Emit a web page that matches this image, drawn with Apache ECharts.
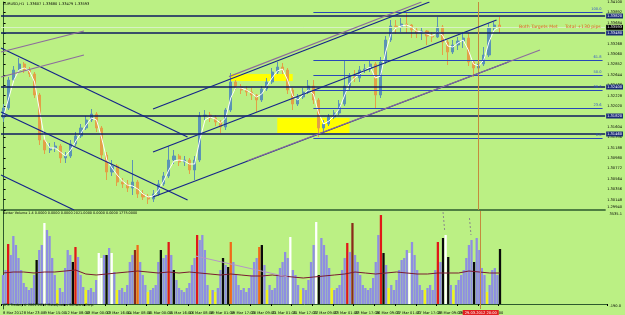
<!DOCTYPE html>
<html><head><meta charset="utf-8">
<script src="https://cdn.jsdelivr.net/npm/echarts@6/dist/echarts.min.js"></script>
<style>html,body{margin:0;padding:0;background:#bbf084;}#c{width:625px;height:315px;}</style>
</head><body><div id="c"></div>
<script>
// ---------- DATA ----------
const timeLabels = ["8 Mar 2012","8 Mar 23:00","9 Mar 15:00","12 Mar 08:00","13 Mar 00:00","13 Mar 16:00","14 Mar 08:00","15 Mar 00:00","15 Mar 16:00","16 Mar 08:00","19 Mar 01:00","19 Mar 17:00","20 Mar 09:00","21 Mar 01:00","21 Mar 17:00","22 Mar 09:00","23 Mar 01:00","23 Mar 17:00","26 Mar 09:00","27 Mar 01:00","27 Mar 17:00","28 Mar 09:00","29 Mar 01:00","29 Mar 17:00","30 Mar 09:00"];

// 4-hour candles [open, close, low, high]
const ohlc = [
[1.3178,1.3198,1.3170,1.3206],[1.3198,1.3254,1.3194,1.3260],[1.3254,1.3274,1.3250,1.3282],[1.3274,1.3286,1.3270,1.3298],[1.3286,1.3274,1.3268,1.3290],
[1.3274,1.3266,1.3260,1.3280],[1.3266,1.3224,1.3218,1.3270],[1.3224,1.3134,1.3124,1.3228],[1.3134,1.3114,1.3106,1.3138],[1.3114,1.3118,1.3108,1.3128],
[1.3118,1.3122,1.3110,1.3130],[1.3122,1.3098,1.3088,1.3126],[1.3098,1.3102,1.3088,1.3110],[1.3102,1.3126,1.3098,1.3134],[1.3126,1.3142,1.3122,1.3150],
[1.3142,1.3158,1.3138,1.3166],[1.3158,1.3174,1.3154,1.3182],[1.3174,1.3186,1.3170,1.3196],[1.3186,1.3158,1.3150,1.3190],[1.3158,1.3104,1.3094,1.3162],
[1.3104,1.3070,1.3054,1.3110],[1.3070,1.3082,1.3062,1.3094],[1.3082,1.3050,1.3042,1.3086],[1.3050,1.3046,1.3038,1.3058],[1.3046,1.3038,1.3030,1.3054],
[1.3038,1.3050,1.3024,1.3094],[1.3050,1.3026,1.3018,1.3054],[1.3026,1.3020,1.3014,1.3034],[1.3020,1.3016,1.3006,1.3026],[1.3016,1.3026,1.3010,1.3034],
[1.3026,1.3046,1.3022,1.3054],[1.3046,1.3062,1.3042,1.3070],[1.3062,1.3094,1.3058,1.3122],[1.3094,1.3102,1.3086,1.3114],[1.3102,1.3090,1.3082,1.3106],
[1.3090,1.3094,1.3082,1.3102],[1.3094,1.3074,1.3066,1.3098],[1.3074,1.3094,1.3054,1.3102],[1.3094,1.3182,1.3090,1.3190],[1.3182,1.3184,1.3174,1.3194],
[1.3184,1.3178,1.3170,1.3190],[1.3178,1.3170,1.3162,1.3184],[1.3170,1.3160,1.3148,1.3174],[1.3160,1.3194,1.3154,1.3198],[1.3194,1.3250,1.3190,1.3268],
[1.3250,1.3240,1.3234,1.3254],[1.3240,1.3234,1.3226,1.3246],[1.3234,1.3230,1.3222,1.3242],[1.3230,1.3224,1.3214,1.3238],[1.3224,1.3214,1.3190,1.3226],
[1.3214,1.3236,1.3210,1.3242],[1.3236,1.3250,1.3232,1.3258],[1.3250,1.3270,1.3246,1.3278],[1.3270,1.3280,1.3266,1.3290],[1.3280,1.3274,1.3266,1.3288],
[1.3274,1.3234,1.3226,1.3278],[1.3234,1.3206,1.3194,1.3238],[1.3206,1.3220,1.3202,1.3226],[1.3220,1.3230,1.3216,1.3238],[1.3230,1.3242,1.3226,1.3254],
[1.3242,1.3214,1.3206,1.3254],[1.3214,1.3158,1.3140,1.3218],[1.3158,1.3166,1.3150,1.3174],[1.3166,1.3180,1.3162,1.3186],[1.3180,1.3188,1.3176,1.3194],
[1.3188,1.3206,1.3184,1.3214],[1.3206,1.3242,1.3202,1.3294],[1.3242,1.3260,1.3234,1.3268],[1.3260,1.3258,1.3250,1.3274],[1.3258,1.3274,1.3250,1.3282],
[1.3274,1.3276,1.3268,1.3286],[1.3276,1.3286,1.3270,1.3294],[1.3286,1.3224,1.3198,1.3290],[1.3224,1.3290,1.3218,1.3300],[1.3290,1.3334,1.3286,1.3342],
[1.3334,1.3362,1.3330,1.3374],[1.3362,1.3360,1.3346,1.3374],[1.3360,1.3366,1.3350,1.3378],[1.3366,1.3364,1.3348,1.3390],[1.3364,1.3354,1.3338,1.3366],
[1.3354,1.3348,1.3338,1.3360],[1.3348,1.3352,1.3334,1.3360],[1.3352,1.3342,1.3324,1.3354],[1.3342,1.3340,1.3330,1.3350],[1.3340,1.3360,1.3338,1.3380],
[1.3360,1.3330,1.3304,1.3364],[1.3330,1.3310,1.3284,1.3334],[1.3310,1.3324,1.3306,1.3334],[1.3324,1.3332,1.3314,1.3340],[1.3332,1.3338,1.3318,1.3350],
[1.3338,1.3290,1.3282,1.3348],[1.3290,1.3278,1.3260,1.3294],[1.3278,1.3286,1.3270,1.3290],[1.3286,1.3304,1.3282,1.3320],[1.3304,1.3358,1.3300,1.3368],
[1.3358,1.3364,1.3350,1.3370],[1.3364,1.33593,1.3348,1.3380]
];

// white moving average on price
const priceMA = [1.3182,1.3218,1.3254,1.3274,1.3278,1.3272,1.3250,1.3190,1.3134,1.3118,
1.3118,1.3110,1.3102,1.3114,1.3132,1.3148,1.3164,1.3178,1.3174,1.3138,
1.3094,1.3078,1.3064,1.3052,1.3044,1.3042,1.3036,1.3026,1.3020,1.3022,
1.3034,1.3052,1.3074,1.3092,1.3094,1.3092,1.3086,1.3086,1.3134,1.3174,
1.3180,1.3176,1.3168,1.3178,1.3218,1.3240,1.3238,1.3234,1.3228,1.3220,
1.3226,1.3242,1.3258,1.3272,1.3276,1.3254,1.3222,1.3214,1.3224,1.3234,
1.3226,1.3188,1.3166,1.3172,1.3182,1.3196,1.3222,1.3248,1.3258,1.3266,
1.3274,1.3280,1.3258,1.3262,1.3310,1.3346,1.3358,1.3362,1.3364,1.3360,
1.3352,1.3350,1.3346,1.3342,1.3350,1.3344,1.3322,1.3320,1.3328,1.3334,
1.3314,1.3286,1.3282,1.3294,1.3330,1.3354,1.3360];

// horizontal levels (full width), Fibonacci levels, bid
const hLevels = [1.3382, 1.3348, 1.3240, 1.3182, 1.3146];
const fibPrices = [1.3390, 1.32937, 1.3264, 1.32343, 1.31975, 1.3138];
const fibNames = ["100.0","61.8","50.0","38.2","23.6","0.0"];
const fibStartBar = 60;
const bidPrice = 1.33593;
const vLineBar = 92;

// trend lines: [[bar, price],[bar, price]]
const navyTrends = [
  [[-0.5,1.3318],[35.63,1.3140]],
  [[-0.5,1.3190],[35.63,1.3014]],
  [[-0.5,1.3064],[13.65,1.2994]],
  [[28.94,1.3196],[82.47,1.3410]],
  [[28.94,1.3110],[95.47,1.3374]],
  [[28.94,1.3020],[97.76,1.3290]]
];
const purpleTrends = [
  [[-0.5,1.3310],[15.56,1.3352]],
  [[-0.5,1.3260],[15.56,1.3304]],
  [[43.66,1.32608],[80.94,1.3410]],
  [[47.10,1.3092],[103.88,1.3314]]
];
// yellow zones [[barFrom, priceTop],[barTo, priceBottom]]
const zones = [
  [[44,1.3266],[56,1.3252]],
  [[53,1.3178],[67,1.3148]]
];

// 2-hour volume bars
const volume = [1102,1292,2280,1862,2584,2242,1748,1292,798,646,
532,608,1102,1672,2052,2242,3078,2812,2584,1748,
1102,532,608,456,1368,2052,1862,1596,2166,1786,
1102,646,532,532,608,456,912,1938,1748,1862,
1862,2128,1938,1216,532,532,608,456,722,1596,
1862,2052,2242,1596,1102,722,456,532,608,722,
1596,2052,1748,1862,2356,1862,1292,912,608,532,
456,608,798,1482,1748,2622,2432,2622,2052,722,
532,532,456,608,1292,1748,1482,1406,2356,1596,
1102,722,532,608,456,608,1102,1596,1748,2166,
2242,1482,532,722,532,608,1102,1368,1596,1976,
1748,2546,1292,1102,722,532,608,532,912,1596,
2242,3116,1102,2508,2242,1862,1368,608,532,608,
722,1292,1748,2318,1976,3078,1862,1596,1102,722,
608,532,608,988,1596,2622,3382,1938,1482,608,
722,532,912,1292,1672,1748,2052,1938,2356,1862,
1292,722,532,532,608,722,532,1292,2356,1596,
2508,2622,1786,722,532,722,912,1102,1292,1748,
2242,2432,1596,2508,2052,1368,1102,456,722,1292,
1368,1102,2090];
const volRed = [2,28,64,75,133,146,168];
const volWhite = [16,37,38,42,111,121,157,171];
const volBlack = [13,27,40,61,66,85,87,100,122,147,170,172,182,192];
const volYellow = [21,32,44,56,80,82,102,115,127,149,163,174,187];
const volOrange = [52,88,99];
const volDarkRed = [51,135];
// volume average, one value every 4 bars (8 hours)
const volMA = [1178,1216,1216,1178,1216,1216,1254,1292,1140,1102,1140,1178,1216,1254,1216,1178,1216,1178,1216,1178,1140,1102,1140,1102,1064,1064,1102,1064,1026,988,1026,1064,1102,1140,1216,1178,1140,1178,1216,1178,1140,1140,1178,1178,1178,1254,1216,1178,1178];
const volTrend = [[74.4,1824],[110.0,1026]];
const volDashes = [[[170.0,3496],[170.6,2812]],[[180.2,3268],[180.8,2622]]];
const volVLine = 184.56;
const volMin = -190, volMax = 3535.1;
const priceMin = 1.2994, priceMax = 1.3410, priceStep = 0.00208;

// ---------- CHART ----------
const PRICE_SLOTS = 117, VOL_SLOTS = 234;
const priceCats = Array.from({length: PRICE_SLOTS}, (_, i) => 'p' + i);
const volCats = Array.from({length: VOL_SLOTS}, (_, i) => 'v' + i);
const NAVY = '#14248a', PURPLE = '#8c6c9c', FONT = 'DejaVu Sans';

function volColor(i) {
  if (volRed.includes(i)) return '#e01818';
  if (volWhite.includes(i)) return '#ffffff';
  if (volBlack.includes(i)) return '#0a0a0a';
  if (volYellow.includes(i)) return '#f2f21a';
  if (volOrange.includes(i)) return '#f06a18';
  if (volDarkRed.includes(i)) return '#8a2a1a';
  return '#8e8ee2';
}

const mlData = [];
hLevels.forEach(p => mlData.push({
  yAxis: p, lineStyle: {color: '#0e1a60', width: 1.5, type: 'solid'},
  label: {show: true, position: 'end', formatter: p.toFixed(5), backgroundColor: '#1c2c78', color: '#fff', fontSize: 3.6, padding: [1, 1, 0, 1], distance: 1, fontFamily: FONT}
}));
mlData.push({
  yAxis: bidPrice, lineStyle: {color: '#d6f2c4', width: 1, type: 'solid'},
  label: {show: true, position: 'end', formatter: bidPrice.toFixed(5), backgroundColor: '#000', color: '#fff', fontSize: 3.6, padding: [1, 1, 0, 1], distance: 1, fontFamily: FONT}
});
fibPrices.forEach((p, i) => {
  const st = {lineStyle: {color: '#2848b8', width: 1.2, type: 'solid'},
    label: {show: true, position: 'insideEndTop', formatter: fibNames[i], color: '#3355cc', fontSize: 3.6, distance: 1, fontFamily: FONT}};
  mlData.push([Object.assign({coord: [fibStartBar, p]}, st), Object.assign({coord: [PRICE_SLOTS - 1, p]}, st)]);
});
mlData.push({xAxis: vLineBar, lineStyle: {color: '#c58a3c', width: 1, type: 'solid'}, label: {show: false}});

const series = [];
series.push({
  type: 'line', xAxisIndex: 0, yAxisIndex: 0, data: [], z: 1, silent: true,
  markArea: {silent: true, itemStyle: {color: '#ffff00'}, data: zones.map(z => [{coord: z[0]}, {coord: z[1]}])}
});
series.push({
  type: 'candlestick', xAxisIndex: 0, yAxisIndex: 0, data: ohlc, barWidth: 2.6, z: 3,
  itemStyle: {color: '#5b93b5', color0: '#e2a047', borderColor: '#5b93b5', borderColor0: '#e2a047', borderWidth: 1},
  markLine: {symbol: ['none', 'none'], silent: true, animation: false, precision: 5, data: mlData}
});
series.push({
  type: 'line', xAxisIndex: 0, yAxisIndex: 0, data: priceMA, showSymbol: false, z: 4,
  lineStyle: {color: '#ffffff', width: 1}, silent: true
});
navyTrends.forEach(t => series.push({type: 'line', xAxisIndex: 2, yAxisIndex: 0, data: t, showSymbol: false, z: 5, silent: true, lineStyle: {color: NAVY, width: 1.2}}));
purpleTrends.forEach(t => series.push({type: 'line', xAxisIndex: 2, yAxisIndex: 0, data: t, showSymbol: false, z: 5, silent: true, lineStyle: {color: PURPLE, width: 1.2}}));

series.push({
  type: 'bar', xAxisIndex: 1, yAxisIndex: 1, barCategoryGap: '12%', z: 2,
  data: volume.map((v, i) => ({value: v, itemStyle: {color: volColor(i)}})),
  markLine: {symbol: ['none', 'none'], silent: true, animation: false,
    data: []}
});
series.push({type: 'line', xAxisIndex: 3, yAxisIndex: 1, data: volMA.map((v, i) => [i * 4, v]), showSymbol: false, z: 4, silent: true, lineStyle: {color: '#7a1a30', width: 1}});
series.push({type: 'line', xAxisIndex: 3, yAxisIndex: 1, data: volTrend, showSymbol: false, z: 4, silent: true, lineStyle: {color: '#b596c8', width: 1}});
volDashes.forEach(d => series.push({type: 'line', xAxisIndex: 3, yAxisIndex: 1, data: d, showSymbol: false, z: 4, silent: true, lineStyle: {color: '#8a8a8a', width: 1, type: [2, 2]}}));
series.push({
  type: 'line', xAxisIndex: 3, yAxisIndex: 1, data: [], z: 6, silent: true,
  markLine: {symbol: ['none', 'none'], silent: true, animation: false,
    data: [{xAxis: volVLine, lineStyle: {color: '#c58a3c', width: 1, type: 'solid'},
      label: {show: true, position: 'start', formatter: '29.03.2012 20:00', backgroundColor: '#e02020', color: '#fff', fontSize: 3.6, padding: [1, 2, 0, 2], distance: 1, fontFamily: FONT}}]}
});

const lineCol = '#2d5a2d';
const option = {
  backgroundColor: '#bbf084',
  animation: false,
  grid: [
    {left: 1, top: 2, width: 612, height: 208, containLabel: false},
    {left: 1, top: 211, width: 612, height: 98, containLabel: false}
  ],
  xAxis: [
    {type: 'category', gridIndex: 0, data: priceCats, boundaryGap: true, axisLine: {show: true, lineStyle: {color: lineCol, width: 1.5}}, axisTick: {show: false}, axisLabel: {show: false}, splitLine: {show: false}},
    {type: 'category', gridIndex: 1, data: volCats, boundaryGap: true, axisLine: {show: true, lineStyle: {color: lineCol, width: 1}},
      axisTick: {show: true, length: 2, lineStyle: {color: '#000'}, interval: (i) => i % 8 === 0 && i / 8 < timeLabels.length},
      axisLabel: {show: true, fontSize: 3.6, color: '#000', align: 'left', margin: 2, fontFamily: FONT,
        interval: (i) => i % 8 === 0 && i / 8 < timeLabels.length,
        formatter: (v, i) => (i % 8 === 0 && timeLabels[i / 8]) ? timeLabels[i / 8] : ''},
      splitLine: {show: false}},
    {type: 'value', gridIndex: 0, min: -0.5, max: PRICE_SLOTS - 0.5, show: false},
    {type: 'value', gridIndex: 1, min: -0.5, max: VOL_SLOTS - 0.5, show: false}
  ],
  yAxis: [
    {type: 'value', gridIndex: 0, position: 'right', min: priceMin, max: priceMax, interval: priceStep, scale: true,
      axisLine: {show: true, lineStyle: {color: lineCol, width: 1}}, axisTick: {show: true, length: 2, lineStyle: {color: '#000'}},
      splitLine: {show: false},
      axisLabel: {fontSize: 3.6, color: '#000', margin: 2, fontFamily: FONT,
        formatter: (v) => Math.abs(v - priceMin) < 1e-6 ? '{b|' + v.toFixed(5) + '}' : v.toFixed(5),
        rich: {b: {fontSize: 3.6, padding: [0, 0, 5, 0], fontFamily: FONT}}}},
    {type: 'value', gridIndex: 1, position: 'right', min: volMin, max: volMax, interval: volMax - volMin,
      axisLine: {show: true, lineStyle: {color: lineCol, width: 1}}, axisTick: {show: false}, splitLine: {show: false},
      axisLabel: {fontSize: 3.6, color: '#000', margin: 2, fontFamily: FONT,
        formatter: (v) => Math.abs(v - volMax) < 1 ? '{t|' + volMax.toFixed(1) + '}' : '{b|' + v.toFixed(1) + '}',
        rich: {t: {fontSize: 3.6, padding: [6, 0, 0, 0], fontFamily: FONT}, b: {fontSize: 3.6, padding: [0, 0, 6, 0], fontFamily: FONT}}}}
  ],
  graphic: [
    {type: 'text', left: 3, top: 2, z: 100, style: {text: 'EURUSD,H1  1.33607 1.33680 1.33479 1.33593', fontSize: 3.6, fill: '#000', fontFamily: FONT}},
    {type: 'text', left: 519, top: 24, z: 100, style: {text: 'Both Targets Met', fontSize: 4.6, fill: '#e0601c', fontFamily: FONT}},
    {type: 'text', left: 565, top: 24, z: 100, style: {text: 'Total +130 pips', fontSize: 4.6, fill: '#e0601c', fontFamily: FONT}},
    {type: 'text', left: 3, top: 212, z: 100, style: {text: 'Better Volume 1.4 0.0000 0.0000 0.0000 2021.0000 0.0000 0.0000 1775.0000', fontSize: 3.4, fill: '#000', fontFamily: FONT}},
    {type: 'text', left: 3, top: 304, z: 100, style: {text: 'SPX Trader, \u00a9 2001-2012 MetaQuotes Software Corp.', fontSize: 3.4, fill: '#000', fontFamily: FONT}}
  ],
  series: series
};
const chart = echarts.init(document.getElementById('c'), null, {renderer: 'canvas'});
chart.setOption(option);
</script>
</body></html>
